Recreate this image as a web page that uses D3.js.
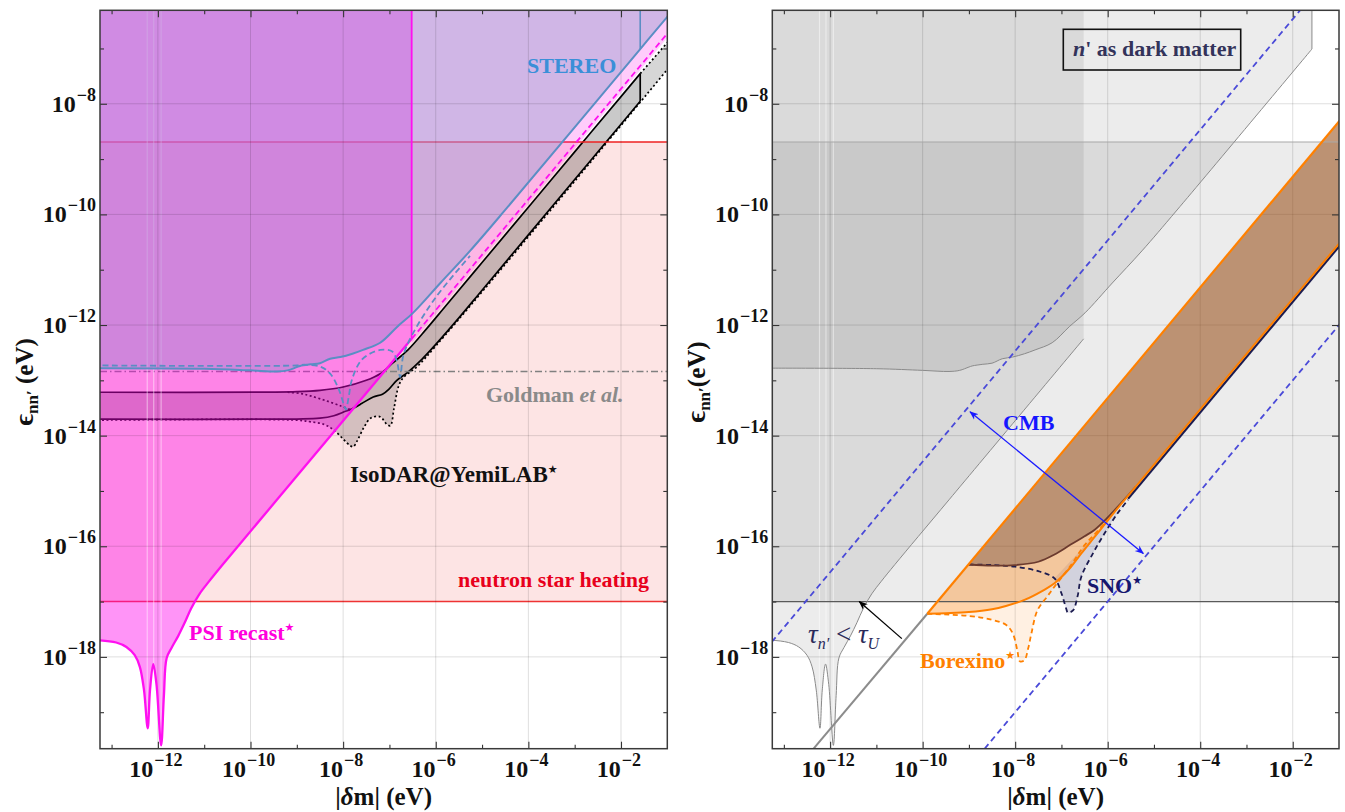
<!DOCTYPE html>
<html lang="en">
<head>
<meta charset="utf-8" />
<title>n - n' mixing limits</title>
<script src="https://cdnjs.cloudflare.com/ajax/libs/d3/7.8.5/d3.min.js"></script>
<style>
  body { margin: 0; background: #fff; }
  svg { display: block; font-family: 'Liberation Serif', 'Times New Roman', 'DejaVu Serif', serif; }
</style>
</head>
<body>
<svg id="chart" width="1345" height="812"></svg>
<script>
// every point is [log10 |dm| (eV), log10 eps (eV)]
const xMajor = [-12, -10, -8, -6, -4, -2];
const xMinor = [-13, -11, -9, -7, -5, -3];
const yMajor = [-18, -16, -14, -12, -10, -8];
const yMinor = [-19, -17, -15, -13, -11, -9, -7];

const nsBand = [-17.0, -8.69];
const goldmanLevel = -12.84;
const psiCut = -6.52;
const stereoCut = -1.585;

const psiCurve = [[-13.4,-17.70],[-13.25,-17.70],[-12.9,-17.74],[-12.68,-17.82],[-12.5,-17.97],[-12.39,-18.18],
  [-12.3,-18.6],[-12.22,-19.29],[-12.17,-18.6],[-12.1,-18.13],[-12.03,-18.5],[-11.93,-19.6],[-11.87,-18.7],
  [-11.81,-18.02],[-11.7,-17.83],[-11.56,-17.62],[-11.42,-17.38],[-11.28,-17.12],[-11.1,-16.86],
  [-10.9,-16.64],[-10.6,-16.33],[-9.43,-15.16],[-6.52,-12.25]];
const psiDashed = [[-6.52,-12.25],[-0.9,-6.63]];
const pinkLower = [[-0.9,-6.71],[-6.52,-12.33]];

const stereoCurve = [[-13.4,-12.78],[-11,-12.79],[-10,-12.82],[-9.43,-12.84],[-9.2,-12.82],[-9.0,-12.76],
  [-8.93,-12.74],[-8.7,-12.71],[-8.5,-12.69],[-8.28,-12.61],[-8.06,-12.58],[-7.8,-12.52],[-7.57,-12.45],
  [-7.2,-12.32],[-6.83,-12.03],[-6.49,-11.78],[-5.9,-11.24],[-5.26,-10.66],[-4.5,-9.92],[-1.585,-7.01],[-0.9,-6.33]];
const stereoDashed = [[-13.4,-12.73],[-9.0,-12.73],[-8.93,-12.72],[-8.5,-12.75],[-8.28,-12.88],[-8.1,-13.15],
  [-7.98,-13.45],[-7.94,-13.53],[-7.88,-13.3],[-7.81,-12.99],[-7.59,-12.62],[-7.2,-12.45],[-6.94,-12.48],
  [-6.84,-12.65],[-6.77,-12.94],[-6.7,-12.55],[-6.51,-12.18],[-6.0,-11.5],[-5.26,-10.75]];

const isoUpper = [[-13.4,-13.215],[-9.5,-13.213],[-9,-13.205],[-8.5,-13.18],[-8,-13.12],[-7.5,-13.0],
  [-7.2,-12.88],[-6.92,-12.68],[-6.6,-12.45],[-6.2,-12.07],[-5.8,-11.67],[-5,-10.87],[-4,-9.87],
  [-3,-8.87],[-2,-7.87],[-1.585,-7.455]];
const isoLower = [[-13.4,-13.70],[-9,-13.70],[-8.5,-13.685],[-8.2,-13.64],[-7.95,-13.56],[-7.85,-13.53],
  [-7.6,-13.42],[-7.35,-13.30],[-7.15,-13.25],[-7.0,-13.15],[-6.84,-13.0],[-6.6,-12.85],[-6.3,-12.62],
  [-6.0,-12.35],[-5.5,-11.87],[-5,-11.37],[-4,-10.37],[-3,-9.37],[-2,-8.37],[-1.585,-7.955]];
const isoDotLower = [[-13.4,-13.72],[-9,-13.72],[-8.7,-13.75],[-8.4,-13.8],[-8.2,-13.9],[-8.0,-14.06],
  [-7.85,-14.18],[-7.78,-14.2],[-7.7,-14.1],[-7.55,-13.85],[-7.4,-13.68],[-7.2,-13.66],[-7.05,-13.8],
  [-6.98,-13.82],[-6.9,-13.5],[-6.8,-13.1],[-6.7,-12.95],[-6.4,-12.75],[-6,-12.38],[-5,-11.4],[-3,-9.4],[-0.9,-7.28]];
const isoDotUpper = [[-1.585,-7.455],[-0.9,-6.8]];
const isoDotKnee = [[-9.2,-13.215],[-8.9,-13.24],[-8.71,-13.28],[-8.4,-13.36],[-8.06,-13.46],[-7.85,-13.53]];

const seams = [[-12.23,-19.2],[-12.09,-18.2],[-11.93,-19.5]];

const cmbUpper = [[-13.4,-17.87],[-1.8,-6.27]];
const cmbLower = [[-8.8,-19.8],[-0.9,-11.9]];
const cmbArrow = [[-8.975,-13.57],[-5.23,-16.13]];
const tauArrow = [[-10.45,-17.67],[-11.37,-17.0]];

const boreCorner = [-9.9,-17.22];
const boreUpper = [[-9.9,-17.22],[-0.9,-8.22]];
const grayDiag = [[-12.55,-19.85],[-9.9,-17.22]];
const boreSolid = [[-9.9,-17.22],[-9.5,-17.21],[-9.0,-17.19],[-8.5,-17.14],[-8.2,-17.08],[-7.8,-16.97],
  [-7.4,-16.8],[-7.15,-16.67],[-6.8,-16.38],[-6.57,-16.13],[-6.3,-15.85],[-6.07,-15.61],[-5.8,-15.33]];
const boreLowerDiag = [[-5.8,-15.33],[-0.9,-10.43]];
const boreDashed = [[-9.9,-17.22],[-9.0,-17.26],[-8.5,-17.33],[-8.2,-17.42],[-8.05,-17.58],[-7.95,-17.9],
  [-7.9,-18.08],[-7.8,-18.06],[-7.72,-17.85],[-7.65,-17.58],[-7.52,-17.16],[-7.3,-16.9],[-7.15,-16.73],
  [-6.8,-16.35],[-6.5,-15.98],[-6.3,-15.8],[-6.0,-15.52]];
const darkBrown = [[-9.0,-16.33],[-8.5,-16.35],[-8.0,-16.34],[-7.5,-16.28],[-7.15,-16.15],[-6.8,-15.97],
  [-6.5,-15.82],[-6.28,-15.70],[-6.0,-15.48],[-5.7,-15.21],[-5.4,-14.93]];
const snoDashed = [[-9.0,-16.33],[-8.5,-16.34],[-8.0,-16.37],[-7.5,-16.45],[-7.15,-16.58],[-7.0,-16.85],
  [-6.9,-17.12],[-6.86,-17.2],[-6.75,-17.16],[-6.65,-16.9],[-6.57,-16.55],[-6.3,-16.1],[-6.07,-15.77],
  [-5.8,-15.42],[-5.56,-15.16]];
const snoDiag = [[-5.56,-15.14],[-0.9,-10.48]];

// ---------------- layout ----------------
const yRange = [748.7, 10.3];
const xDom = [10 ** -13.25, 10 ** -1];
const yDom = [10 ** -19.66, 10 ** -6.31];
const TOP = -5.9, LEFT = -13.5, RIGHT = -0.8;

const svg = d3.select("#chart");
const defs = svg.append("defs");
[["arrBlue", "#1a1aff"], ["arrBlack", "#000"]].forEach(([id, c]) => {
  defs.append("marker").attr("id", id).attr("viewBox", "0 0 10 10").attr("refX", 9).attr("refY", 5)
    .attr("markerWidth", 7).attr("markerHeight", 7).attr("orient", "auto-start-reverse")
    .append("path").attr("d", "M0,1 L10,5 L0,9 L3,5 Z").attr("fill", c);
});

function makePanel(x0, x1, id) {
  const x = d3.scaleLog().domain(xDom).range([x0, x1]);
  const y = d3.scaleLog().domain(yDom).range(yRange);
  defs.append("clipPath").attr("id", "clip" + id).append("rect")
    .attr("x", x0).attr("y", yRange[1]).attr("width", x1 - x0).attr("height", yRange[0] - yRange[1]);
  const g = svg.append("g");
  const plot = g.append("g").attr("clip-path", `url(#clip${id})`);
  const line = d3.line().x(d => x(10 ** d[0])).y(d => y(10 ** d[1])).curve(d3.curveCatmullRom.alpha(0.5));
  const poly = parts => parts.map((p, i) => { const s = line(p); return i ? "L" + s.slice(1) : s; }).join("") + "Z";
  return {x, y, x0, x1, g, plot, line, poly};
}

function band(P, lo, hi, fill) {
  P.plot.append("rect").attr("x", P.x0).attr("width", P.x1 - P.x0)
    .attr("y", P.y(10 ** hi)).attr("height", P.y(10 ** lo) - P.y(10 ** hi)).attr("fill", fill);
}
function hline(P, v, stroke, w, dash) {
  P.plot.append("line").attr("x1", P.x0).attr("x2", P.x1).attr("y1", P.y(10 ** v)).attr("y2", P.y(10 ** v))
    .attr("stroke", stroke).attr("stroke-width", w).attr("stroke-dasharray", dash || null);
}
function path(P, pts, stroke, w, dash) {
  return P.plot.append("path").attr("d", P.line(pts)).attr("fill", "none").attr("stroke", stroke)
    .attr("stroke-width", w).attr("stroke-dasharray", dash || null);
}
function fillPoly(P, parts, fill) {
  P.plot.append("path").attr("d", P.poly(parts)).attr("fill", fill);
}
function seamLines(P) {
  seams.forEach(s => {
    P.plot.append("line").attr("x1", P.x(10 ** s[0])).attr("x2", P.x(10 ** s[0]))
      .attr("y1", yRange[1]).attr("y2", P.y(10 ** s[1]))
      .attr("stroke", "#fff").attr("stroke-opacity", 0.45).attr("stroke-width", 1.2);
  });
}
function grid(P) {
  xMajor.forEach(v => P.plot.append("line").attr("x1", P.x(10 ** v)).attr("x2", P.x(10 ** v))
    .attr("y1", yRange[0]).attr("y2", yRange[1]).attr("stroke", "#000").attr("stroke-opacity", 0.13));
  yMajor.forEach(v => P.plot.append("line").attr("y1", P.y(10 ** v)).attr("y2", P.y(10 ** v))
    .attr("x1", P.x0).attr("x2", P.x1).attr("stroke", "#000").attr("stroke-opacity", 0.13));
}
function frame(P, yTitleX, yTitleSpace) {
  const g = P.g;
  const bottom = yRange[0], top = yRange[1];
  const fmt = () => "";
  g.append("g").attr("transform", `translate(0,${bottom})`)
    .call(d3.axisBottom(P.x).tickValues(xMajor.map(v => 10 ** v)).tickSize(-7).tickFormat(fmt));
  g.append("g").attr("transform", `translate(0,${bottom})`)
    .call(d3.axisBottom(P.x).tickValues(xMinor.map(v => 10 ** v)).tickSize(-4).tickFormat(fmt));
  g.append("g").attr("transform", `translate(0,${top})`)
    .call(d3.axisTop(P.x).tickValues(xMajor.map(v => 10 ** v)).tickSize(-7).tickFormat(fmt));
  g.append("g").attr("transform", `translate(0,${top})`)
    .call(d3.axisTop(P.x).tickValues(xMinor.map(v => 10 ** v)).tickSize(-4).tickFormat(fmt));
  g.append("g").attr("transform", `translate(${P.x0},0)`)
    .call(d3.axisLeft(P.y).tickValues(yMajor.map(v => 10 ** v)).tickSize(-7).tickFormat(fmt));
  g.append("g").attr("transform", `translate(${P.x0},0)`)
    .call(d3.axisLeft(P.y).tickValues(yMinor.map(v => 10 ** v)).tickSize(-4).tickFormat(fmt));
  g.append("g").attr("transform", `translate(${P.x1},0)`)
    .call(d3.axisRight(P.y).tickValues(yMajor.map(v => 10 ** v)).tickSize(-7).tickFormat(fmt));
  g.append("g").attr("transform", `translate(${P.x1},0)`)
    .call(d3.axisRight(P.y).tickValues(yMinor.map(v => 10 ** v)).tickSize(-4).tickFormat(fmt));
  g.selectAll(".domain").remove();
  g.selectAll(".tick line").attr("stroke", "#333").attr("stroke-width", 1.1);
  g.append("rect").attr("x", P.x0).attr("y", top).attr("width", P.x1 - P.x0).attr("height", bottom - top)
    .attr("fill", "none").attr("stroke", "#3a3a3a").attr("stroke-width", 1.5);

  const pow = (px, py, e, anchor) => {
    const t = g.append("text").attr("x", px).attr("y", py).attr("text-anchor", anchor)
      .attr("font-size", 24).attr("font-weight", "bold").attr("fill", "#111");
    t.append("tspan").text("10");
    t.append("tspan").attr("dx", 1).attr("dy", -11).attr("font-size", 18).text("\u2212" + Math.abs(e));
  };
  xMajor.forEach(e => pow(P.x(10 ** e) - 2, 777, e, "middle"));
  yMajor.forEach(e => pow(P.x0 - 4, P.y(10 ** e) + 8, e, "end"));

  const xt = g.append("text").attr("x", (P.x0 + P.x1) / 2).attr("y", 805).attr("text-anchor", "middle")
    .attr("font-size", 25).attr("font-weight", "bold").attr("fill", "#111");
  xt.append("tspan").text("|");
  xt.append("tspan").attr("font-style", "italic").text("\u03b4");
  xt.append("tspan").text("m| (eV)");

  const yt = g.append("text").attr("transform", `translate(${yTitleX},382) rotate(-90)`)
    .attr("text-anchor", "middle").attr("font-size", 25).attr("font-weight", "bold").attr("fill", "#111");
  yt.append("tspan").attr("font-size", 28).text("\u03f5");
  yt.append("tspan").attr("dy", 5).attr("font-size", 17).text("nn\u2032");
  yt.append("tspan").attr("dy", -5).text(yTitleSpace + "(eV)");
}
function label(g, px, py, txt, color, star, size) {
  const t = g.append("text").attr("x", px).attr("y", py).attr("font-size", size || 22)
    .attr("font-weight", "bold").attr("fill", color);
  t.append("tspan").text(txt);
  if (star) t.append("tspan").attr("dy", -9).attr("font-size", 11)
    .attr("font-family", "DejaVu Sans").text("\u2605");
  return t;
}

// ---------------- LEFT PANEL ----------------
const L = makePanel(100, 667.3, "L");
band(L, nsBand[0], nsBand[1], "#fde4e4");

// IsoDAR sensitivity bands
fillPoly(L, [isoLower, isoDotUpper, isoDotLower.slice().reverse()], "rgba(0,0,0,0.16)");
fillPoly(L, [isoUpper, isoLower.slice().reverse()], "rgba(0,0,0,0.21)");
path(L, isoUpper, "#000", 1.7);
path(L, isoLower, "#000", 1.7);
path(L, isoDotLower, "#000", 1.7, "2,2.5");
path(L, isoDotUpper, "#000", 1.7, "2,2.5");
path(L, isoDotKnee, "#000", 1.7, "2,2.5");
path(L, [[stereoCut, -7.455], [stereoCut, -7.955]], "#000", 1.7);

// Goldman et al.
hline(L, goldmanLevel, "#808080", 1.3, "7,3,1.5,3");
// neutron star heating edges
hline(L, nsBand[0], "#ee3333", 1.4);
hline(L, nsBand[1], "#ee2222", 1.6);

// PSI recast region
fillPoly(L, [psiCurve, [[psiCut, TOP], [LEFT, TOP]]], "rgba(255,0,235,0.42)");
fillPoly(L, [stereoCurve.filter(d => d[0] >= psiCut), pinkLower], "rgba(255,0,235,0.2)");
seamLines(L);

// STEREO region
fillPoly(L, [stereoCurve, [[RIGHT, TOP], [LEFT, TOP]]], "rgba(177,134,213,0.6)");
grid(L);

path(L, psiCurve, "#ff10f0", 2.3);
path(L, [[psiCut, -12.25], [psiCut, TOP]], "#ff10f0", 1.8);
path(L, psiDashed, "#ff10f0", 1.8, "6,3.5");
path(L, stereoDashed, "#5b8ec4", 1.8, "6,3.5");
path(L, stereoCurve, "#5b8ec4", 2);
path(L, [[stereoCut, -7.01], [stereoCut, TOP]], "#5b8ec4", 1.6);

frame(L, 33, " ");
label(L.g, 527, 73, "STEREO", "#3a8fd8");
const gold = label(L.g, 486, 402, "Goldman ", "#8a8a8a");
gold.append("tspan").attr("font-style", "italic").text("et al.");
label(L.g, 350, 482, "IsoDAR@YemiLAB", "#111", true, 23);
label(L.g, 458, 587, "neutron star heating", "#e8001c");
label(L.g, 189, 640, "PSI recast", "#ff00dd", true);

// ---------------- RIGHT PANEL ----------------
const R = makePanel(772.3, 1339, "R");
const gray = "rgba(0,0,0,0.075)";
band(R, nsBand[0], nsBand[1], gray);
fillPoly(R, [psiCurve, [[psiCut, TOP], [LEFT, TOP]]], gray);
fillPoly(R, [stereoCurve.filter(d => d[0] <= stereoCut), [[stereoCut, TOP], [LEFT, TOP]]], gray);
seamLines(R);
grid(R);

// SNO and Borexino regions
fillPoly(R, [snoDashed.filter(d => d[0] >= -7.3)], "rgba(40,40,120,0.13)");
fillPoly(R, [boreSolid, boreDashed.slice().reverse()], "rgba(255,140,30,0.13)");
fillPoly(R, [[boreCorner, [-9.0, -16.32]], darkBrown, boreSolid.slice().reverse()], "rgba(255,140,30,0.38)");
fillPoly(R, [[[-9.0, -16.32], [-0.9, -8.22]], [[-0.9, -10.43]], boreLowerDiag.slice().reverse(),
  darkBrown.slice().reverse()], "rgba(150,75,20,0.56)");

hline(R, nsBand[1], "#a8a8a8", 1.1);
hline(R, nsBand[0], "#5a5a5a", 1.2);
path(R, psiCurve, "#8a8a8a", 1);
path(R, stereoCurve.filter(d => d[0] <= stereoCut), "#8a8a8a", 1);
path(R, [[stereoCut, -7.01], [stereoCut, TOP]], "#8a8a8a", 1);
path(R, grayDiag, "#8c8c8c", 2);
path(R, cmbUpper, "#4a4ad8", 1.8, "6,4");
path(R, cmbLower, "#4a4ad8", 1.8, "6,4");

path(R, snoDiag, "#1c1c50", 2.2);
path(R, snoDashed, "#1c1c50", 1.8, "5,3.5");
path(R, boreDashed, "#ff8000", 1.8, "5,3.5");
path(R, darkBrown, "#6b3a2e", 1.8);
path(R, boreSolid.concat(boreLowerDiag.slice(1)), "#ff8000", 2);
path(R, boreUpper, "#ff8000", 2.2);

// arrows
R.g.append("line").attr("x1", R.x(10 ** cmbArrow[0][0])).attr("y1", R.y(10 ** cmbArrow[0][1]))
  .attr("x2", R.x(10 ** cmbArrow[1][0])).attr("y2", R.y(10 ** cmbArrow[1][1]))
  .attr("stroke", "#1a1aff").attr("stroke-width", 1.3)
  .attr("marker-start", "url(#arrBlue)").attr("marker-end", "url(#arrBlue)");
R.g.append("line").attr("x1", R.x(10 ** tauArrow[0][0])).attr("y1", R.y(10 ** tauArrow[0][1]))
  .attr("x2", R.x(10 ** tauArrow[1][0])).attr("y2", R.y(10 ** tauArrow[1][1]))
  .attr("stroke", "#000").attr("stroke-width", 1.3).attr("marker-end", "url(#arrBlack)");

frame(R, 705, "");
label(R.g, 1003, 430, "CMB", "#1515ff");
label(R.g, 1087, 593, "SNO", "#16166e", true);
label(R.g, 920, 668, "Borexino", "#ff8000", true);

const tau = R.g.append("text").attr("x", 808).attr("y", 643).attr("font-size", 27)
  .attr("font-style", "italic").attr("fill", "#2a2a5a");
tau.append("tspan").text("\u03c4");
tau.append("tspan").attr("dy", 6).attr("font-size", 16).text("n\u2032");
tau.append("tspan").attr("dy", -6).attr("font-style", "normal").text(" < ");
tau.append("tspan").text("\u03c4");
tau.append("tspan").attr("dy", 6).attr("font-size", 16).text("U");

R.g.append("rect").attr("x", 1063.3).attr("y", 29.3).attr("width", 177.4).attr("height", 40.7)
  .attr("fill", "none").attr("stroke", "#111").attr("stroke-width", 1.6);
const dm = R.g.append("text").attr("x", 1073).attr("y", 56).attr("font-size", 22)
  .attr("font-weight", "bold").attr("fill", "#33335a");
dm.append("tspan").attr("font-style", "italic").text("n");
dm.append("tspan").text("' as dark matter");
</script>
</body>
</html>
